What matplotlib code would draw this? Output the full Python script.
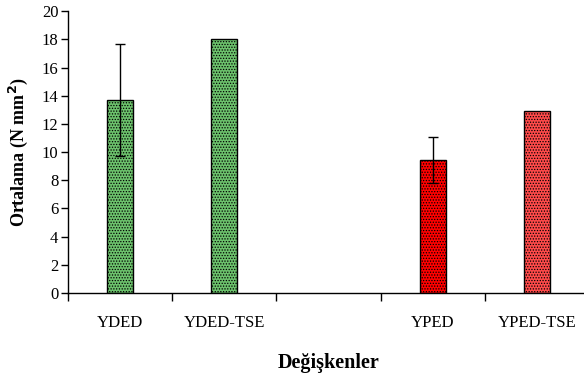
import matplotlib
matplotlib.use("Agg")
import matplotlib.pyplot as plt

# ----------------------------
# Veriler
# ----------------------------
categories = ["YDED", "YDED-TSE", "", "YPED", "YPED-TSE"]
means = [13.7, 18.0, 0.0, 9.45, 12.95]
errors = [4.0, 0.0, 0.0, 1.65, 0.0]
face_colors = ["#6cc26c", "#6cc26c", "white", "#ff0000", "#ff4a4a"]
hatch_colors = ["#3e8f3e", "#3e8f3e", "white", "#ff8080", "#ff9a9a"]
show_bar = [True, True, False, True, True]

plt.rcParams.update({
    "font.family": ["Liberation Serif", "DejaVu Serif"],
    "font.size": 12,
    "hatch.linewidth": 0.6,
})

fig = plt.figure(figsize=(5.84, 3.74), dpi=100)
ax = fig.add_axes([0.1164, 0.2166, 1.0086 - 0.1164, 0.7532])

x = list(range(len(categories)))
for i in x:
    if not show_bar[i]:
        continue
    plt.rcParams["hatch.color"] = hatch_colors[i]
    ax.bar(i, means[i], width=0.25, color=face_colors[i], edgecolor="black",
           linewidth=1.0, hatch="......", zorder=2)
    if errors[i] > 0:
        ax.errorbar(i, means[i], yerr=errors[i], fmt="none", ecolor="black",
                    elinewidth=1.0, capsize=3.8, capthick=1.0, zorder=3)

ax.set_xlim(-0.5, len(categories) - 0.5)
ax.set_ylim(0, 20)
ax.set_yticks(range(0, 21, 2))

# tick çizgileri kategori sınırlarında, etiketler çubukların altında
ax.set_xticks([i - 0.5 for i in range(len(categories) + 1)])
ax.set_xticklabels([])
ax.set_xticks(x, minor=True)
ax.set_xticklabels(categories, minor=True)
ax.tick_params(axis="x", which="major", direction="out", length=6, width=1)
ax.tick_params(axis="x", which="minor", length=0, pad=16)
ax.tick_params(axis="y", direction="out", length=5, width=1, pad=2)

for side in ("top", "right"):
    ax.spines[side].set_visible(False)
for side in ("left", "bottom"):
    ax.spines[side].set_linewidth(1.0)

ax.set_ylabel("Ortalama (N mm$^{\\mathbf{2}}$)", fontweight="bold",
              fontsize=13, labelpad=8)
ax.set_xlabel("Değişkenler", fontweight="bold", fontsize=14.5, labelpad=16)

fig.savefig("out.png", dpi=100)
